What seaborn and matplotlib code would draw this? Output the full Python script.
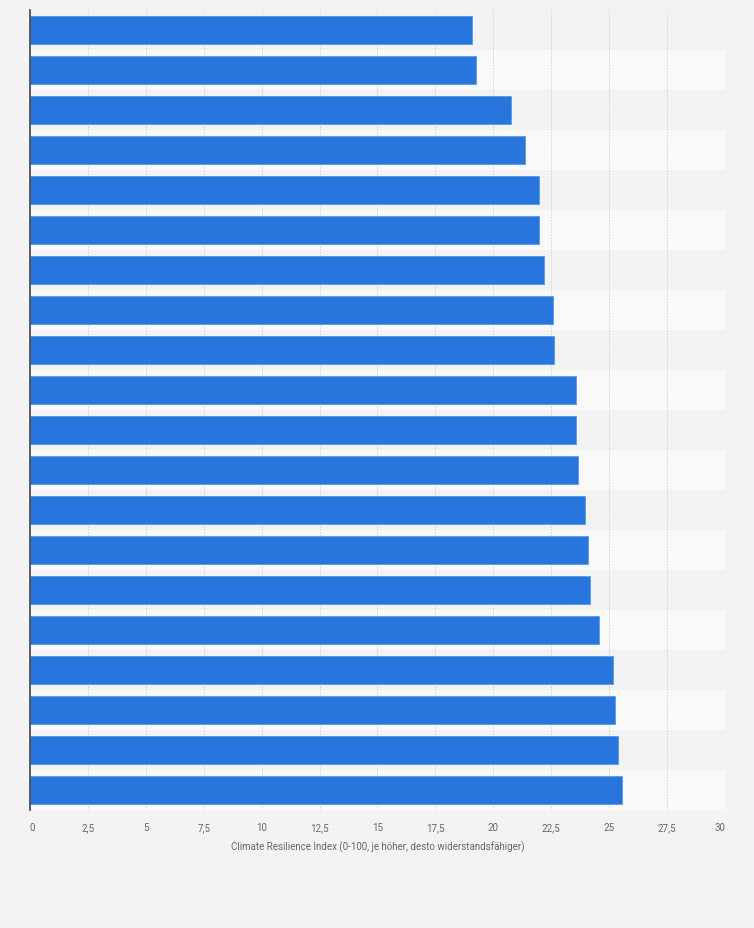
import matplotlib
matplotlib.use("Agg")
import matplotlib.pyplot as plt
import seaborn as sns
import pandas as pd

# Category names are not shown in the chart, so ranks are used as labels
categories = [f"Rang {i}" for i in range(1, 21)]
values = [19.06, 19.24, 20.75, 21.35, 21.96, 21.96, 22.18, 22.57, 22.63, 23.55,
          23.55, 23.64, 23.94, 24.07, 24.17, 24.56, 25.15, 25.25, 25.38, 25.54]
x_ticks = [0, 2.5, 5, 7.5, 10, 12.5, 15, 17.5, 20, 22.5, 25, 27.5, 30]
x_tick_labels = ["0", "2,5", "5", "7,5", "10", "12,5", "15", "17,5", "20", "22,5", "25", "27,5", "30"]
x_label = "Climate Resilience Index (0-100, je höher, desto widerstandsfähiger)"

df = pd.DataFrame({"category": categories, "value": values})

sns.set_style("white")
plt.rcParams["font.family"] = ["Roboto", "DejaVu Sans"]

fig = plt.figure(figsize=(7.54, 9.29), dpi=100, facecolor="#f3f3f3")
ax = fig.add_axes([30 / 754, 1 - 811 / 929, 695 / 754, 800 / 929])
ax.set_facecolor("#f3f3f3")

# alternating row bands
for i in range(len(categories)):
    ax.axhspan(i - 0.5, i + 0.5, color="#f2f2f2" if i % 2 == 0 else "#f9f9f9",
               zorder=0, lw=0)

sns.barplot(data=df, x="value", y="category", orient="h", color="#2876dd",
            saturation=1, width=0.7, edgecolor="#5a9be8", linewidth=0.6,
            ax=ax, zorder=3)

ax.set_xlim(0, 30)
ax.set_ylim(len(categories) - 0.5, -0.5)
ax.set_xticks(x_ticks)
ax.set_xticklabels(x_tick_labels, fontsize=7, color="#666666")
labels = ax.get_xticklabels()
labels[0].set_ha("left")
labels[-1].set_ha("right")
ax.set_yticks([])
ax.set_ylabel("")
ax.set_xlabel(x_label, fontsize=7, color="#666666", labelpad=6)
ax.tick_params(axis="x", length=0, pad=9)

ax.grid(axis="x", color="#d2d2d2", linestyle=(0, (1.5, 1.5)), linewidth=0.7, zorder=1)
ax.set_axisbelow(False)
for sp in ["top", "right", "bottom"]:
    ax.spines[sp].set_visible(False)
ax.spines["left"].set_color("#444444")
ax.spines["left"].set_linewidth(1.2)
ax.spines["left"].set_zorder(5)

fig.savefig("out.png", dpi=100, facecolor=fig.get_facecolor())
